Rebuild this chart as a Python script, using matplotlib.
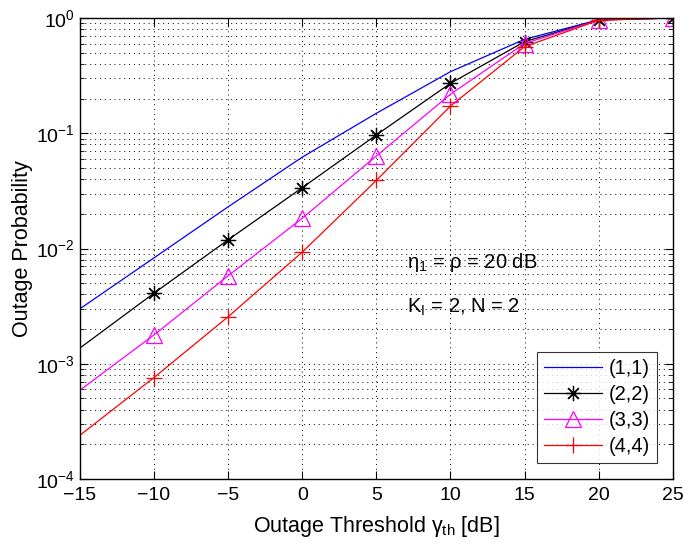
import numpy as np
import matplotlib
matplotlib.use("Agg")
import matplotlib.pyplot as plt
from matplotlib.ticker import LogLocator, NullFormatter

plt.rcParams['font.family'] = ['Liberation Sans', 'DejaVu Sans']
plt.rcParams['mathtext.fontset'] = 'custom'
plt.rcParams['mathtext.rm'] = 'Liberation Sans'
plt.rcParams['mathtext.it'] = 'Liberation Sans'

# outage threshold in dB
gamma_th = [-15, -10, -5, 0, 5, 10, 15, 20, 25]

# outage probability for each (L1, L2)
p_11 = [3.0e-3, 8.3e-3, 2.3e-2, 6.2e-2, 0.149, 0.342, 0.653, 0.965, 1.0]
p_22 = [1.37e-3, 4.1e-3, 1.19e-2, 3.37e-2, 0.0966, 0.271, 0.623, 0.962, 1.0]
p_33 = [5.9e-4, 1.78e-3, 5.8e-3, 1.83e-2, 0.0635, 0.218, 0.60, 0.96, 1.0]
p_44 = [2.4e-4, 7.6e-4, 2.56e-3, 9.3e-3, 0.039, 0.172, 0.564, 0.955, 1.0]

labels = ["(1,1)", "(2,2)", "(3,3)", "(4,4)"]

fig = plt.figure(figsize=(6.83, 5.45), dpi=100)
ax = fig.add_axes([0.117, 0.121, 0.868, 0.846])

ax.semilogy(gamma_th, p_11, '-', color='b', lw=0.9, label=labels[0])
ax.semilogy(gamma_th, p_22, '-', marker=(8, 2, 0), color='k', lw=0.9, ms=11, mew=0.9,
            markevery=range(1, 9), label=labels[1])
ax.semilogy(gamma_th, p_33, '-^', color='magenta', lw=0.9, ms=11, mew=0.9,
            mfc='none', markevery=range(1, 9), label=labels[2])
ax.semilogy(gamma_th, p_44, '-+', color='r', lw=0.9, ms=12, mew=0.9,
            markevery=range(1, 9), label=labels[3])

ax.set_xlim(-15, 25)
ax.set_ylim(1e-4, 1)
ax.set_xticks(range(-15, 26, 5))
ax.set_xticklabels([str(v).replace('-', '\u2212') for v in range(-15, 26, 5)])
ax.yaxis.set_major_locator(LogLocator(base=10, numticks=10))
ax.yaxis.set_minor_locator(LogLocator(base=10, subs=np.arange(2, 10), numticks=20))
ax.yaxis.set_minor_formatter(NullFormatter())

ax.grid(True, which='major', axis='both', color='k', linestyle=(0, (1, 4)), lw=0.7)
ax.grid(True, which='minor', axis='y', color='k', linestyle=(0, (1, 4)), lw=0.7)

ax.tick_params(which='both', direction='in', top=True, right=True, labelsize=14)
ax.tick_params(which='major', length=6)
ax.tick_params(which='minor', length=3)
ax.tick_params(axis='x', pad=6)
for s in ax.spines.values():
    s.set_linewidth(1.0)

ax.set_xlabel(r'Outage Threshold $\gamma_{\rm th}$ [dB]', fontsize=15.5, labelpad=7)
ax.set_ylabel('Outage Probability', fontsize=15.5, labelpad=2)

ax.text(7.1, 6.8e-3, r'$\eta_1$ = $\rho$ = 20 dB', fontsize=14.5, va='baseline')
ax.text(7.1, 2.8e-3, r'K$_{\rm I}$ = 2, N = 2', fontsize=14.5, va='baseline')

leg = ax.legend(loc='lower right', fontsize=14.5, frameon=True, fancybox=False,
                edgecolor='k', handlelength=2.9, handletextpad=0.3,
                borderpad=0.35, labelspacing=0.35, borderaxespad=0.8)
leg.get_frame().set_linewidth(0.8)

fig.savefig("out.png", dpi=100)
